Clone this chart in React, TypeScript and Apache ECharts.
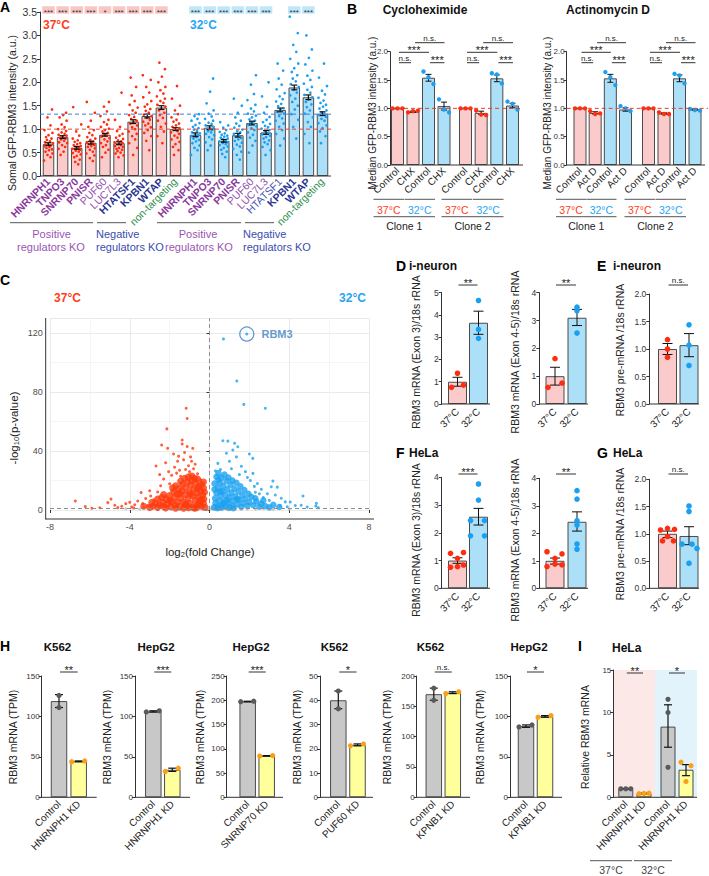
import React, { useEffect, useRef } from "react";
import * as echarts from "echarts";

const FONT = "'Liberation Sans', Arial, Helvetica, sans-serif";

/* ================= DATA ================= */
// ---- Panel A ----
const aCats = ["HNRNPH1", "TNPO3", "SNRNP70", "PNISR", "PUF60", "LUC7L3", "HTATSF1", "KPBN1", "WTAP", "non-targeting"];
const a37Means = [0.68, 0.83, 0.6, 0.71, 0.88, 0.7, 1.16, 1.28, 1.46, 1.0];
const a37Sem = [0.03, 0.03, 0.03, 0.03, 0.03, 0.03, 0.04, 0.04, 0.04, 0.03];
const a32Means = [0.88, 1.03, 0.75, 0.87, 1.13, 0.93, 1.41, 1.89, 1.68, 1.33];
const a32Sem = [0.04, 0.04, 0.03, 0.04, 0.04, 0.04, 0.04, 0.05, 0.05, 0.04];
const a37Dots = [
  [0.33, 0.4, 0.45, 0.48, 0.52, 0.55, 0.57, 0.6, 0.62, 0.64, 0.66, 0.68, 0.7, 0.72, 0.74, 0.77, 0.8, 0.83, 0.87, 0.92, 0.98, 1.08, 1.25, 1.42],
  [0.45, 0.52, 0.58, 0.62, 0.66, 0.7, 0.72, 0.75, 0.78, 0.8, 0.82, 0.84, 0.86, 0.88, 0.9, 0.93, 0.96, 1.0, 1.04, 1.1, 1.18, 1.25, 1.3, 1.35],
  [0.25, 0.3, 0.35, 0.4, 0.43, 0.46, 0.49, 0.52, 0.54, 0.56, 0.58, 0.6, 0.62, 0.64, 0.66, 0.68, 0.7, 0.73, 0.76, 0.8, 0.86, 0.95, 1.1, 1.47],
  [0.32, 0.38, 0.44, 0.48, 0.52, 0.56, 0.59, 0.62, 0.64, 0.66, 0.68, 0.7, 0.72, 0.74, 0.77, 0.8, 0.83, 0.87, 0.92, 0.98, 1.05, 1.18, 1.35, 1.58],
  [0.4, 0.5, 0.56, 0.62, 0.66, 0.7, 0.74, 0.78, 0.81, 0.84, 0.87, 0.9, 0.92, 0.95, 0.98, 1.01, 1.05, 1.1, 1.15, 1.2, 1.28, 1.38, 1.48, 1.58],
  [0.4, 0.44, 0.48, 0.5, 0.53, 0.56, 0.58, 0.6, 0.62, 0.64, 0.66, 0.68, 0.7, 0.72, 0.74, 0.76, 0.79, 0.82, 0.86, 0.9, 0.96, 1.05, 1.2, 1.78],
  [0.45, 0.6, 0.7, 0.78, 0.85, 0.9, 0.95, 1.0, 1.04, 1.08, 1.12, 1.15, 1.18, 1.22, 1.26, 1.3, 1.35, 1.4, 1.46, 1.52, 1.6, 1.72, 1.9, 2.1],
  [0.55, 0.75, 0.85, 0.92, 0.98, 1.04, 1.08, 1.12, 1.16, 1.2, 1.24, 1.28, 1.31, 1.35, 1.39, 1.43, 1.48, 1.53, 1.6, 1.68, 1.78, 1.9, 2.05, 2.15],
  [0.7, 0.85, 0.95, 1.05, 1.12, 1.18, 1.24, 1.3, 1.35, 1.4, 1.44, 1.48, 1.52, 1.56, 1.6, 1.65, 1.7, 1.76, 1.83, 1.9, 2.0, 2.12, 2.28, 2.42],
  [0.45, 0.55, 0.62, 0.68, 0.73, 0.78, 0.82, 0.86, 0.9, 0.93, 0.96, 0.99, 1.02, 1.05, 1.08, 1.12, 1.16, 1.2, 1.25, 1.32, 1.4, 1.5, 1.65, 1.92],
];
const a32Dots = [
  [0.45, 0.55, 0.6, 0.65, 0.7, 0.74, 0.77, 0.8, 0.83, 0.85, 0.87, 0.89, 0.91, 0.93, 0.96, 0.99, 1.02, 1.05, 1.09, 1.13, 1.18, 1.22, 1.28, 1.32],
  [0.55, 0.65, 0.72, 0.78, 0.83, 0.87, 0.9, 0.93, 0.96, 0.99, 1.01, 1.03, 1.05, 1.08, 1.11, 1.14, 1.18, 1.22, 1.27, 1.33, 1.4, 1.55, 1.8, 2.08],
  [0.4, 0.47, 0.52, 0.56, 0.6, 0.63, 0.66, 0.68, 0.7, 0.72, 0.74, 0.76, 0.78, 0.8, 0.82, 0.84, 0.86, 0.88, 0.91, 0.94, 0.98, 1.03, 1.08, 1.15],
  [0.35, 0.45, 0.52, 0.58, 0.63, 0.67, 0.71, 0.75, 0.78, 0.81, 0.84, 0.87, 0.9, 0.93, 0.96, 0.99, 1.03, 1.07, 1.12, 1.18, 1.25, 1.35, 1.5, 1.65],
  [0.5, 0.65, 0.75, 0.82, 0.88, 0.93, 0.98, 1.02, 1.06, 1.09, 1.12, 1.15, 1.18, 1.21, 1.25, 1.29, 1.33, 1.38, 1.44, 1.52, 1.62, 1.75, 1.95, 2.15],
  [0.45, 0.55, 0.62, 0.68, 0.72, 0.76, 0.8, 0.83, 0.86, 0.89, 0.92, 0.95, 0.98, 1.01, 1.04, 1.07, 1.11, 1.15, 1.2, 1.26, 1.35, 1.48, 1.7, 2.0],
  [0.65, 0.8, 0.9, 0.98, 1.05, 1.12, 1.18, 1.23, 1.28, 1.33, 1.37, 1.41, 1.45, 1.49, 1.54, 1.59, 1.64, 1.7, 1.77, 1.85, 1.95, 2.08, 2.25, 2.4],
  [0.8, 1.05, 1.2, 1.32, 1.42, 1.5, 1.58, 1.65, 1.72, 1.78, 1.84, 1.9, 1.96, 2.02, 2.08, 2.15, 2.22, 2.3, 2.4, 2.5, 2.65, 2.8, 3.05, 3.4],
  [0.7, 0.9, 1.05, 1.15, 1.25, 1.33, 1.4, 1.47, 1.53, 1.58, 1.63, 1.68, 1.73, 1.78, 1.84, 1.9, 1.97, 2.05, 2.14, 2.25, 2.38, 2.52, 2.7, 3.0],
  [0.7, 0.85, 0.95, 1.02, 1.08, 1.13, 1.18, 1.22, 1.26, 1.3, 1.33, 1.36, 1.4, 1.44, 1.48, 1.52, 1.56, 1.61, 1.67, 1.74, 1.82, 1.92, 2.1, 2.4],
];
const aStars37 = ["***", "***", "***", "***", "*", "***", "***", "***", "***", ""];
const aStars32 = ["***", "***", "***", "***", "***", "***", "", "***", "***", ""];
const aRef37 = 1.0;
const aRef32 = 1.32;

// ---- Panel B ----
const bCatsCyc = ["Control", "CHX", "Control", "CHX"];
const bCatsAct = ["Control", "Act D", "Control", "Act D"];
const cycC1Means = [1.0, 0.94, 1.54, 1.04];
const cycC1Err = [0, 0.01, 0.06, 0.07];
const cycC1Dots = [[1, 1, 1], [0.93, 0.95, 0.96], [1.65, 1.55, 1.43], [1.16, 0.98, 0.93]];
const cycC2Means = [1.0, 0.92, 1.53, 1.05];
const cycC2Err = [0, 0.03, 0.06, 0.04];
const cycC2Dots = [[1, 1, 1], [0.96, 0.89, 0.88], [1.62, 1.6, 1.44], [1.12, 1.08, 0.98]];
const actC1Means = [1.0, 0.92, 1.53, 0.98];
const actC1Err = [0, 0.02, 0.07, 0.03];
const actC1Dots = [[1, 1, 1], [0.95, 0.9, 0.91], [1.64, 1.55, 1.41], [1.04, 1.0, 0.95]];
const actC2Means = [1.0, 0.91, 1.53, 0.98];
const actC2Err = [0, 0.01, 0.06, 0.01];
const actC2Dots = [[1, 1, 1], [0.93, 0.9, 0.9], [1.61, 1.58, 1.44], [0.99, 0.97, 0.96]];
const bSig = ["n.s.", "***", "n.s.", "***"];

// ---- Panel C (volcano) ----
const volRedCore = [
  [-0.22, 1.8], [-0.3, 4.5], [-0.28, 7.5], [-0.35, 10.2], [-0.4, 2.6], [-0.45, 13], [-0.5, 5.8], [-0.55, 8.8], [-0.52, 16], [-0.62, 3.2],
  [-0.65, 11.5], [-0.7, 18.5], [-0.72, 6.6], [-0.78, 14.2], [-0.82, 2.1], [-0.85, 9.6], [-0.9, 20], [-0.95, 16.8], [-0.98, 4.6], [-1.02, 12.4],
  [-1.08, 7.8], [-1.1, 19], [-1.15, 2.8], [-1.2, 15.3], [-1.22, 10.4], [-1.3, 5.4], [-1.35, 17.5], [-1.38, 12.8], [-1.45, 8.2], [-1.5, 2.3],
  [-1.55, 14.6], [-1.6, 5.2], [-1.62, 10.8], [-1.72, 3.2], [-1.75, 8.4], [-1.8, 12.6], [-1.9, 5.5], [-1.95, 2.2], [-2.0, 9.8], [-2.1, 4.2],
  [-2.15, 7.1], [-2.3, 2.4], [-2.35, 5.3], [-2.5, 3.4], [-2.6, 1.8], [-2.7, 4.6], [-2.85, 2.5], [-3.0, 1.7], [-0.25, 12], [-0.3, 15],
  [-0.6, 21], [-1.25, 21.5], [-0.88, 23], [-1.45, 19.5], [-0.4, 17.5], [-1.05, 1.5], [-0.65, 1.5], [-1.85, 15], [-2.3, 10.5], [-2.6, 7.5],
  [-0.3, 19], [-0.5, 3.5], [-0.75, 1.2], [-1.3, 1.2], [-1.7, 1.2], [-2.0, 6.5], [-1.2, 4], [-0.95, 10.8], [-0.6, 14.5], [-1.7, 16.5],
  [-2.4, 8.5], [-2.9, 5], [-3.3, 2.5], [-0.4, 7], [-1.5, 11], [-2.2, 1.3], [-1.05, 22.5], [-0.75, 21.5],
];
const volRedSparse = [
  [-6.73, 6.1], [-6.23, 2.3], [-5.1, 5], [-4.94, 7.4], [-4.75, 3.2], [-4.6, 1.6], [-4.4, 2.5], [-4.2, 4.3], [-4.0, 5.2], [-3.9, 2.0],
  [-3.75, 3.6], [-3.6, 6.1], [-3.43, 11.8], [-3.35, 4.4], [-3.2, 7.8], [-3.1, 3.0], [-2.95, 9.5], [-2.8, 6.9], [-2.68, 29.8], [-2.6, 12.2],
  [-2.45, 16.4], [-2.4, 44], [-2.3, 21], [-2.2, 9.3], [-2.14, 55], [-2.1, 41.8], [-2.05, 26], [-2.0, 17.8], [-1.9, 23.5], [-1.8, 38],
  [-1.75, 29], [-1.65, 25], [-1.6, 33], [-1.5, 27], [-1.45, 22.8], [-1.37, 47.5], [-1.37, 44.7], [-1.3, 34], [-1.25, 39], [-1.17, 69],
  [-1.12, 62], [-1.12, 43], [-1.05, 30], [-1.0, 26], [-0.95, 36], [-0.84, 41.8], [-0.8, 28], [-0.72, 31], [-0.6, 24.5], [-0.45, 20.5],
  [-5.5, 1.5], [-5.9, 1.2], [-3.8, 1.3], [-3.3, 1.5], [-2.2, 32], [-1.55, 36.5], [-0.9, 33], [-2.5, 24], [-1.2, 27.5], [-3.0, 13],
];
const volBlueCore = [
  [0.22, 1.8], [0.3, 4.8], [0.28, 8], [0.35, 11.5], [0.4, 2.4], [0.42, 15], [0.5, 6.2], [0.55, 9.6], [0.52, 18.5], [0.6, 21.8],
  [0.62, 3.3], [0.65, 12.8], [0.7, 16.5], [0.75, 6.5], [0.8, 10.2], [0.82, 2.2], [0.85, 19.8], [0.9, 14], [0.95, 4.6], [1.0, 8.4],
  [1.05, 17.2], [1.1, 11.6], [1.15, 2.6], [1.2, 6.2], [1.25, 14.5], [1.3, 9.2], [1.4, 3.8], [1.45, 12.5], [1.5, 6.8], [1.6, 2.2],
  [1.65, 10], [1.7, 4.6], [1.8, 7.6], [1.9, 2.8], [2.0, 5.4], [2.1, 9], [2.2, 3.2], [2.35, 5.8], [2.5, 2.2], [2.6, 4.2],
  [2.8, 2.6], [3.0, 1.8], [0.35, 22.5], [0.45, 25], [1.35, 18.5], [1.55, 16], [0.75, 24], [0.25, 18], [1.0, 1.6], [0.6, 1.5],
  [0.25, 14], [0.45, 20.5], [0.7, 4.5], [0.95, 22], [1.15, 20], [1.2, 1.2], [1.4, 7.5], [1.75, 13.5], [1.95, 11], [2.3, 8],
  [2.7, 6.5], [3.2, 3.5], [3.5, 2], [0.4, 1.2], [0.55, 12.5], [0.9, 6.5],
];
const volBlueSparse = [
  [0.7, 116], [1.37, 87.5], [1.72, 71.6], [2.8, 69], [0.67, 47], [0.92, 46.7], [1.26, 45.2], [1.42, 42.9], [1.17, 40.7], [2.0, 38],
  [2.17, 35], [0.85, 38.5], [1.35, 36], [0.42, 31.6], [1.0, 33], [1.6, 29.6], [2.18, 24.8], [1.9, 22], [2.4, 18], [2.6, 14],
  [2.9, 11], [3.18, 19.6], [3.1, 15.8], [3.4, 15.5], [3.3, 10.2], [3.6, 8], [3.8, 5.5], [4.05, 5.4], [4.3, 3.1], [4.6, 3.2],
  [4.69, 9.5], [4.9, 2], [5.36, 4.5], [5.33, 2.7], [5.45, 1.6], [3.55, 3], [3.9, 2.2], [2.7, 8.5], [2.3, 12], [1.8, 26],
  [1.1, 28], [0.55, 27.5], [0.3, 26.5], [2.05, 20], [1.5, 24], [2.5, 11], [3.0, 6.5], [2.25, 16],
];
const volGrey = [
  [-4.2, 0.8], [-3.5, 0.6], [-3.0, 1.0], [-2.6, 0.4], [-2.2, 0.9], [-1.9, 0.3], [-1.6, 1.1], [-1.5, 0.1], [-1.3, 0.5], [-1.1, 0.9],
  [-0.9, 0.2], [-0.7, 0.7], [-0.5, 1.1], [-0.35, 0.4], [-0.2, 0.8], [-0.1, 0.3], [0.05, 0.6], [0.15, 1.0], [0.3, 0.3], [0.45, 0.8],
  [0.6, 0.5], [0.8, 1.1], [0.9, 0.1], [1.0, 0.4], [1.3, 0.9], [1.6, 0.3], [1.9, 0.7], [2.3, 0.5], [2.7, 1.0], [3.2, 0.4], [4.0, 0.7],
];
const volRBM3 = [[1.87, 119.3]];
const volSigLine = 1.3;

// ---- Panels D-G ----
const tempCats = ["37°C", "32°C"];
const d1Means = [1.0, 3.65];
const d1Lo = [0.8, 3.13];
const d1Hi = [1.2, 4.17];
const d1Dots = [[1.38, 0.75, 0.85], [4.65, 3.35, 2.95]];
const d2Means = [1.0, 3.1];
const d2Lo = [0.68, 2.82];
const d2Hi = [1.32, 3.4];
const d2Dots = [[1.63, 0.6, 0.75], [3.48, 3.35, 2.55]];
const eMeans = [1.0, 1.07];
const eLo = [0.9, 0.86];
const eHi = [1.1, 1.28];
const eDots = [[1.17, 1.0, 0.85], [1.44, 1.07, 0.7]];
const f1Means = [1.0, 2.58];
const f1Lo = [0.9, 2.28];
const f1Hi = [1.1, 2.88];
const f1Dots = [[1.26, 1.29, 1.08, 0.76, 0.78, 0.84], [3.76, 3.18, 2.44, 2.44, 1.89, 1.89]];
const f2Means = [1.0, 2.42];
const f2Lo = [0.88, 2.08];
const f2Hi = [1.1, 2.78];
const f2Dots = [[1.33, 1.25, 1.09, 0.79, 0.88, 0.85], [3.55, 3.24, 2.46, 2.3, 1.61, 1.42]];
const gMeans = [1.0, 0.96];
const gLo = [0.93, 0.8];
const gHi = [1.05, 1.13];
const gDots = [[1.07, 1.1, 1.08, 0.87, 0.95, 0.87], [1.51, 1.41, 0.81, 0.81, 0.73, 0.46]];
const degSig = ["**", "**", "n.s.", "***", "**", "n.s."];

// ---- Panel H ----
const hTitles = ["K562", "HepG2", "HepG2", "K562", "K562", "HepG2"];
const hCats = [
  ["Control", "HNRNPH1 KD"], ["Control", "HNRNPH1 KD"], ["Control", "SNRNP70 KD"],
  ["Control", "PUF60 KD"], ["Control", "KPNB1 KD"], ["Control", "KPNB1 KD"],
];
const hMeans = [[119, 44.5], [106, 34], [197.5, 85.5], [40, 21.6], [170, 172.5], [88, 100]];
const hLo = [[111, 44], [105.5, 32], [197, 85], [36.5, 21.2], [160, 171], [86.5, 99]];
const hHi = [[127, 45], [107, 36], [198, 86], [43.8, 22], [180, 174], [89.5, 101]];
const hDots = [
  [[126, 111], [44, 45]], [[105.5, 107], [32, 36]], [[197, 198], [85, 86]],
  [[43.8, 36.5], [21.2, 22]], [[180, 160], [171, 174]], [[87, 89.5], [99, 101]],
];
const hYMax = [150, 150, 250, 50, 200, 150];
const hYStep = [50, 50, 50, 10, 50, 50];
const hSig = ["**", "***", "***", "*", "n.s.", "*"];

// ---- Panel I ----
const iCats = ["Control", "HNRNPH1 KD"];
const i37Means = [1.0, 0.45];
const i37Lo = [0.97, 0.4];
const i37Hi = [1.03, 0.5];
const i37Dots = [[1, 1, 1], [0.42, 0.45, 0.48]];
const i32Means = [8.33, 3.25];
const i32Lo = [5.9, 2.55];
const i32Hi = [10.9, 3.85];
const i32Dots = [[11.55, 9.98, 3.54], [4.13, 3.73, 1.85]];
const iSig = ["**", "*"];

/* ================= STYLE ================= */
const C_PINK = "#fbcaca";
const C_LBLUE = "#acdff8";
const C_RED = "#ff2d10";
const C_BLUE = "#1b9ff2";
const C_EDGE = "#4b4b4b";
const C_REDT = "#ff3d20";
const C_BLUET = "#27a4f4";
const C_GREYBAR = "#c8c8c8";
const C_YELLOW = "#ffff9c";
const C_GREYDOT = "#5a5a5a";
const C_ORANGE = "#f8a01c";
const JIT_A = [-4.5, 2, -1, 4, -3, 0.5, 3.5, -2, 1, -4, 2.5, -0.5, 4.5, -3.5, 1.5, -1.5, 3, -2.5, 0, 4, -4, 2, -1, 3.5];
const aCls37 = ["pb", "pb", "pb", "pb", "p", "p", "nb", "nb", "nb", "g"];
const aCls32 = ["pb", "pb", "pb", "pb", "p", "p", "n", "nb", "nb", "g"];
const aRich = {
  pb: { color: "#8a3a9c", fontWeight: "bold", fontSize: 10.5, fontFamily: FONT },
  p: { color: "#9450ae", fontSize: 10.5, fontFamily: FONT },
  nb: { color: "#2b3590", fontWeight: "bold", fontSize: 10.5, fontFamily: FONT },
  n: { color: "#3d4fb8", fontSize: 10.5, fontFamily: FONT },
  g: { color: "#2f8f4f", fontSize: 10.5, fontFamily: FONT },
};

function buildOption() {
  const grid: any[] = [];
  const xAxis: any[] = [];
  const yAxis: any[] = [];
  const series: any[] = [];
  const graphic: any[] = [];

  const txt = (text: string, x: number, y: number, o: any = {}) => {
    graphic.push({
      type: "text", x, y, rotation: o.rot || 0, silent: true, z: 20,
      style: {
        text, fill: o.color || "#222", fontSize: o.size || 10, fontWeight: o.weight || "normal",
        fontFamily: FONT, align: o.align || "center", verticalAlign: o.va || "middle",
        textAlign: o.align || "center", textVerticalAlign: o.va || "middle", rich: o.rich,
        lineHeight: o.lh,
      },
    });
  };
  const line = (x1: number, y1: number, x2: number, y2: number, o: any = {}) => {
    graphic.push({
      type: "line", silent: true, z: o.z ?? 20, shape: { x1, y1, x2, y2 },
      style: { stroke: o.color || "#333", lineWidth: o.w || 1, lineDash: o.dash || null },
    });
  };
  const rect = (x: number, y: number, w: number, h: number, fill: string, z = 15) => {
    graphic.push({ type: "rect", silent: true, z, shape: { x, y, width: w, height: h }, style: { fill } });
  };

  const addGrid = (p: any) => {
    const s = (p.last - p.first) / (p.n - 1);
    const left = p.first - s / 2;
    const width = s * p.n;
    const gi = grid.length;
    grid.push({ left, top: p.top, width, height: p.bottom - p.top });
    xAxis.push({
      type: "category", gridIndex: gi, data: p.cats,
      axisLine: { show: false }, axisTick: { show: false }, splitLine: { show: false },
      axisLabel: {
        interval: 0, rotate: 45, margin: p.margin ?? 5, fontSize: p.labelSize || 10, fontFamily: FONT,
        color: "#222", formatter: p.fmt, rich: p.rich,
      },
    });
    yAxis.push({
      type: "value", gridIndex: gi, min: p.ymin, max: p.ymax, interval: p.interval,
      show: p.showY !== false, offset: left - p.axisX,
      axisLine: { show: true, lineStyle: { color: "#333", width: 1 } },
      axisTick: { show: true, length: 3, lineStyle: { color: "#333", width: 1 } },
      axisLabel: { fontSize: p.tickSize || 10, fontFamily: FONT, color: "#333", margin: p.tickMargin ?? 3, formatter: (v: number) => v.toFixed(p.digits) },
      splitLine: { show: false },
    });
    if (p.axisEnd) line(p.axisX, p.bottom, p.axisEnd, p.bottom, { color: "#333" });
    return { gi, left, width, top: p.top, bottom: p.bottom, n: p.n, ymin: p.ymin, ymax: p.ymax };
  };
  const cx = (g: any, i: number) => g.left + ((i + 0.5) * g.width) / g.n;
  const py = (g: any, v: number) => g.top + (g.bottom - g.top) * (1 - (v - g.ymin) / (g.ymax - g.ymin));

  const addBars = (g: any, means: number[], fills: string[], bw: number) => {
    series.push({
      type: "bar", xAxisIndex: g.gi, yAxisIndex: g.gi, barWidth: bw, silent: true, z: 2,
      data: means.map((m, i) => ({ value: m, itemStyle: { color: fills[i], borderColor: C_EDGE, borderWidth: 1 } })),
    });
  };
  const addErr = (g: any, lo: number[], hi: number[], cap: number, w = 1, z = 5) => {
    series.push({
      type: "custom", xAxisIndex: g.gi, yAxisIndex: g.gi, silent: true, z,
      data: lo.map((l, i) => [i, l, hi[i]]),
      renderItem: (_p: any, api: any) => {
        const a = api.coord([api.value(0), api.value(1)]);
        const b = api.coord([api.value(0), api.value(2)]);
        const st = { stroke: "#111", lineWidth: w };
        return {
          type: "group",
          children: [
            { type: "line", shape: { x1: a[0], y1: a[1], x2: b[0], y2: b[1] }, style: st },
            { type: "line", shape: { x1: a[0] - cap, y1: a[1], x2: a[0] + cap, y2: a[1] }, style: st },
            { type: "line", shape: { x1: b[0] - cap, y1: b[1], x2: b[0] + cap, y2: b[1] }, style: st },
          ],
        };
      },
    });
  };
  const addDots = (g: any, dots: number[][], jit: (i: number, j: number) => number, colors: string[], r: number, z = 4) => {
    const data: any[] = [];
    dots.forEach((arr, i) => arr.forEach((v, j) => data.push([i, v, jit(i, j)])));
    series.push({
      type: "custom", xAxisIndex: g.gi, yAxisIndex: g.gi, silent: true, z, data,
      renderItem: (_p: any, api: any) => {
        const c = api.coord([api.value(0), api.value(1)]);
        return { type: "circle", shape: { cx: c[0] + api.value(2), cy: c[1], r }, style: { fill: colors[api.value(0)] } };
      },
    });
  };
  // significance bracket: stars large and just above the line, n.s. small
  const sig = (x1: number, x2: number, y: number, t: string) => {
    line(x1, y, x2, y, { color: "#333", w: 1 });
    const stars = t.indexOf("*") >= 0;
    if (stars) txt(t, (x1 + x2) / 2, y - 2.5, { va: "middle", size: 11, color: "#222", lh: 7 });
    else txt(t, (x1 + x2) / 2, y - 4.5, { va: "middle", size: 8, color: "#222", lh: 7 });
  };
  const ylab = (t: string, x: number, y: number, size = 10, rich?: any) =>
    txt(t, x, y, { rot: Math.PI / 2, size, color: "#222", rich });
  const letter = (t: string, x: number, y: number) => txt(t, x, y, { align: "left", va: "top", size: 14, weight: "bold", color: "#000" });

  /* ---------- Panel A ---------- */
  letter("A", 0, 0);
  const gA1 = addGrid({
    first: 48.5, last: 175.5, n: 10, top: 12, bottom: 176, axisX: 40, axisEnd: 331, ymin: 0, ymax: 3.5, interval: 0.5,
    digits: 1, cats: aCats, margin: 4, tickSize: 10.5, fmt: (v: string, i: number) => `{${aCls37[i]}|${v}}`, rich: aRich,
  });
  const gA2 = addGrid({
    first: 195.5, last: 322.5, n: 10, top: 12, bottom: 176, axisX: 40, ymin: 0, ymax: 3.5, interval: 0.5,
    digits: 1, cats: aCats, showY: false, margin: 4, fmt: (v: string, i: number) => `{${aCls32[i]}|${v}}`, rich: aRich,
  });
  const jA = (i: number, j: number) => JIT_A[(j + 7 * i) % JIT_A.length];
  addBars(gA1, a37Means, a37Means.map(() => C_PINK), 11.5);
  addDots(gA1, a37Dots, jA, a37Means.map(() => C_RED), 1.35, 3);
  addErr(gA1, a37Means.map((m, i) => m - a37Sem[i]), a37Means.map((m, i) => m + a37Sem[i]), 3, 1.2);
  addBars(gA2, a32Means, a32Means.map(() => C_LBLUE), 11.5);
  addDots(gA2, a32Dots, jA, a32Means.map(() => C_BLUE), 1.35, 3);
  addErr(gA2, a32Means.map((m, i) => m - a32Sem[i]), a32Means.map((m, i) => m + a32Sem[i]), 3, 1.2);
  line(40, py(gA1, aRef37), 331, py(gA1, aRef37), { color: "#e8402a", dash: [4, 3] });
  line(40, py(gA1, aRef32), 331, py(gA1, aRef32), { color: "#3b7ddd", dash: [4, 3] });
  aStars37.forEach((s, i) => {
    if (!s) return;
    rect(cx(gA1, i) - 6.3, 6.3, 12.6, 7.4, "#f9c6c6");
    txt(s, cx(gA1, i), 12.3, { size: 8, color: "#333" });
  });
  aStars32.forEach((s, i) => {
    if (!s) return;
    rect(cx(gA2, i) - 6.3, 6.3, 12.6, 7.4, "#bfe7fb");
    txt(s, cx(gA2, i), 12.3, { size: 8, color: "#333" });
  });
  txt("37°C", 43, 25, { align: "left", size: 12, weight: "bold", color: C_REDT });
  txt("32°C", 190, 25, { align: "left", size: 12, weight: "bold", color: C_BLUET });
  ylab("Somal GFP-RBM3 intensity (a.u.)", 12, 113, 10.5);
  line(10, 222.7, 93, 222.7, { color: "#555" });
  line(97, 222.7, 126, 222.7, { color: "#555" });
  line(157, 222.7, 241, 222.7, { color: "#555" });
  line(245, 222.7, 274, 222.7, { color: "#555" });
  txt("Positive", 51.5, 233.5, { size: 11, color: "#9a55b5" });
  txt("regulators KO", 51, 247, { size: 11, color: "#9a55b5" });
  txt("Negative", 96, 233.5, { size: 11, color: "#3a4db0", align: "left" });
  txt("regulators KO", 96, 247, { size: 11, color: "#3a4db0", align: "left" });
  txt("Positive", 198, 233.5, { size: 11, color: "#9a55b5" });
  txt("regulators KO", 199, 247, { size: 11, color: "#9a55b5" });
  txt("Negative", 243, 233.5, { size: 11, color: "#3a4db0", align: "left" });
  txt("regulators KO", 243, 247, { size: 11, color: "#3a4db0", align: "left" });

  /* ---------- Panel B ---------- */
  letter("B", 347, 2);
  txt("Cycloheximide", 425, 10, { size: 12, weight: "bold", color: "#111" });
  txt("Actinomycin D", 608, 10, { size: 12, weight: "bold", color: "#111" });
  const bFill = [C_PINK, C_PINK, C_LBLUE, C_LBLUE];
  const bDot = [C_RED, C_RED, C_BLUE, C_BLUE];
  const bJit = [-5, 0, 5];
  const bPanels = [
    { first: 397.5, last: 444, axisX: 390, axisEnd: 523, showY: true, cats: bCatsCyc, m: cycC1Means, e: cycC1Err, d: cycC1Dots, clone: "Clone 1" },
    { first: 465.5, last: 512.5, axisX: 390, showY: false, cats: bCatsCyc, m: cycC2Means, e: cycC2Err, d: cycC2Dots, clone: "Clone 2" },
    { first: 580, last: 625.5, axisX: 566.7, axisEnd: 705, showY: true, cats: bCatsAct, m: actC1Means, e: actC1Err, d: actC1Dots, clone: "Clone 1" },
    { first: 648.5, last: 695, axisX: 566.7, showY: false, cats: bCatsAct, m: actC2Means, e: actC2Err, d: actC2Dots, clone: "Clone 2" },
  ];
  const bGrids = bPanels.map((bp) => {
    const g = addGrid({
      first: bp.first, last: bp.last, n: 4, top: 51.7, bottom: 165, axisX: bp.axisX, axisEnd: bp.axisEnd,
      ymin: 0, ymax: 2, interval: 0.5, digits: 1, cats: bp.cats, showY: bp.showY, margin: 4, tickSize: 8, tickMargin: 2,
    });
    addBars(g, bp.m, bFill, 13);
    addErr(g, bp.m.map((v, i) => v - bp.e[i]), bp.m.map((v, i) => v + bp.e[i]), 3, 1, 4);
    addDots(g, bp.d, (_i, j) => bJit[j], bDot, 2.2, 5);
    const c = [0, 1, 2, 3].map((i) => cx(g, i));
    sig(c[0] + 1.5, c[1] - 2, 62.7, bSig[0]);
    sig(c[0] + 1.5, c[2] + 0.5, 52.3, bSig[1]);
    sig(c[1] + 2, c[3] + 0.5, 42.7, bSig[2]);
    sig(c[2] + 1.5, c[3] + 0.5, 62.7, bSig[3]);
    line(c[0] - 24, 199.3, c[1] - 9, 199.3, { color: "#555" });
    txt("37°C", (c[0] + c[1]) / 2 - 16.5, 210, { size: 10.5, color: C_REDT });
    line(c[2] - 24, 199.3, c[3] - 9, 199.3, { color: "#555" });
    txt("32°C", (c[2] + c[3]) / 2 - 16.5, 210, { size: 10.5, color: C_BLUET });
    line(c[0] - 24, 216.7, c[3] - 9, 216.7, { color: "#555" });
    txt(bp.clone, (c[0] + c[3]) / 2 - 16.5, 226, { size: 10.5, color: "#222" });
    return g;
  });
  const gB = bGrids[0];
  line(390, py(gB, 1.0), 523, py(gB, 1.0), { color: "#e8402a", dash: [4, 3] });
  line(566.7, py(gB, 1.0), 708, py(gB, 1.0), { color: "#e8402a", dash: [4, 3] });
  ylab("Median GFP-RBM3 intensity (a.u.)", 372, 113, 10);
  ylab("Median GFP-RBM3 intensity (a.u.)", 547.5, 113, 10);

  /* ---------- Panel C (volcano) ---------- */
  letter("C", 0, 273);
  txt("37°C", 67.5, 298, { size: 12, weight: "bold", color: C_REDT });
  txt("32°C", 352.5, 298, { size: 12, weight: "bold", color: C_BLUET });
  const vgi = grid.length;
  grid.push({ left: 50, top: 318.25, width: 319, height: 191.75 });
  const vAxisCommon = {
    axisLine: { show: false },
    axisTick: { show: true, length: 3, lineStyle: { color: "#333" } },
    splitLine: { show: true, lineStyle: { color: "#e4e4e4", width: 0.8 } },
    minorTick: { show: false, splitNumber: 2 },
    minorSplitLine: { show: true, lineStyle: { color: "#efefef", width: 0.6 } },
  };
  xAxis.push({
    type: "value", gridIndex: vgi, min: -8, max: 8, interval: 4, offset: 9, ...vAxisCommon,
    axisLabel: { fontSize: 9, color: "#4d4d4d", fontFamily: FONT, margin: 3 },
  });
  yAxis.push({
    type: "value", gridIndex: vgi, min: 0, max: 130, interval: 40, offset: 4.3, ...vAxisCommon,
    axisLabel: { fontSize: 9, color: "#4d4d4d", fontFamily: FONT, margin: 3, showMaxLabel: false },
  });
  line(45.7, 318, 45.7, 519.5, { color: "#333" });
  line(45.7, 519, 374, 519, { color: "#333" });
  const sc = (data: number[][], size: number, color: string, z = 3, extra: any = {}) =>
    series.push({ type: "scatter", xAxisIndex: vgi, yAxisIndex: vgi, data, symbolSize: size, itemStyle: { color }, silent: true, z, ...extra });
  sc(volGrey, 3, "#bdbdbd", 2, {
    markLine: {
      silent: true, symbol: "none", label: { show: false },
      lineStyle: { type: [4, 3], color: "#8c8c8c", width: 1 },
      data: [{ xAxis: 0 }, { yAxis: volSigLine }],
    },
  });
  sc(volRedCore, 7, "#ff3a0c");
  sc(volRedSparse, 3, "#ff3a0c");
  sc(volBlueCore, 6.5, "#1aa1f0");
  sc(volBlueSparse, 3, "#1aa1f0");
  sc(volRBM3, 3, "#1aa1f0", 4);
  sc(volRBM3, 14, "transparent", 5, {
    itemStyle: { color: "rgba(0,0,0,0)", borderColor: "#3b7fc4", borderWidth: 1.3 },
    label: { show: true, position: "right", distance: 7, formatter: "RBM3", color: "#3b7fc4", fontWeight: "bold", fontSize: 11, fontFamily: FONT },
  });
  const richSub = {
    m: { fontSize: 11.5, fontFamily: FONT, fill: "#222", color: "#222" },
    s: { fontSize: 7.5, fontFamily: FONT, fill: "#222", color: "#222", verticalAlign: "bottom", padding: [5, 0, 0, 0] },
  };
  ylab("{m|-log}{s|10}{m|(p-value)}", 14, 428, 11.5, richSub);
  txt("{m|log}{s|2}{m|(fold Change)}", 210, 552, { size: 11.5, rich: richSub });

  /* ---------- Panels D, E, F, G ---------- */
  const tFill = [C_PINK, C_LBLUE];
  const tDot = [C_RED, C_BLUE];
  const degPanels = [
    { first: 457.5, last: 478.5, axisX: 441.7, axisEnd: 490, top: 292.7, bottom: 404, ymax: 5, step: 1, digits: 0, m: d1Means, lo: d1Lo, hi: d1Hi, d: d1Dots, jit: [[0, -6, 6], [0, 0, 0]], sigY: 285, lab: "RBM3 mRNA (Exon 3)/18s rRNA", labX: 416, labY: 352 },
    { first: 555, last: 577, axisX: 539.3, axisEnd: 588, top: 292.7, bottom: 404, ymax: 4, step: 1, digits: 0, m: d2Means, lo: d2Lo, hi: d2Hi, d: d2Dots, jit: [[0, -7, 7], [0, 0, 0]], sigY: 285, lab: "RBM3 mRNA (Exon 4-5)/18s rRNA", labX: 515, labY: 352 },
    { first: 667.5, last: 689, axisX: 649.3, axisEnd: 699, top: 294, bottom: 404, ymax: 2, step: 0.5, digits: 1, m: eMeans, lo: eLo, hi: eHi, d: eDots, jit: [[0, 0, 0], [0, 0, 0]], sigY: 285, lab: "RBM3 pre-mRNA /18s rRNA", labX: 620, labY: 350 },
    { first: 457.5, last: 478.5, axisX: 441.7, axisEnd: 490, top: 477.3, bottom: 588.3, ymax: 4, step: 1, digits: 0, m: f1Means, lo: f1Lo, hi: f1Hi, d: f1Dots, jit: [[-7, 6, 0, -7, 0, 6], [0, 0, -8, 6, -8, 6]], sigY: 474, lab: "RBM3 mRNA (Exon 3)/18s rRNA", labX: 416, labY: 540 },
    { first: 555, last: 577, axisX: 539.3, axisEnd: 588, top: 478.3, bottom: 588.3, ymax: 4, step: 1, digits: 0, m: f2Means, lo: f2Lo, hi: f2Hi, d: f2Dots, jit: [[-8, 7, 0, -8, 0, 7], [0, 0, 0, 0, 0, 0]], sigY: 474, lab: "RBM3 mRNA (Exon 4-5)/18s rRNA", labX: 515, labY: 540 },
    { first: 667.5, last: 689, axisX: 649.3, axisEnd: 699, top: 479.3, bottom: 588.3, ymax: 2, step: 0.5, digits: 1, m: gMeans, lo: gLo, hi: gHi, d: gDots, jit: [[-7, 0, 7, -5, 0, 6], [0, 0, -7, 3, 8, 0]], sigY: 474, lab: "RBM3 pre-mRNA /18s rRNA", labX: 620, labY: 534 },
  ];
  degPanels.forEach((p, k) => {
    const g = addGrid({
      first: p.first, last: p.last, n: 2, top: p.top, bottom: p.bottom, axisX: p.axisX, axisEnd: p.axisEnd,
      ymin: 0, ymax: p.ymax, interval: p.step, digits: p.digits, cats: tempCats, margin: 6, tickSize: 8.5, tickMargin: 3,
    });
    addBars(g, p.m, tFill, 19);
    addErr(g, p.lo, p.hi, 5, 1, 4);
    addDots(g, p.d, (i, j) => p.jit[i][j], tDot, 2.8, 5);
    sig(cx(g, 0) + 1, cx(g, 1) - 1, p.sigY, degSig[k]);
    ylab(p.lab, p.labX, p.labY, 10.5);
  });
  letter("D", 396, 259);
  txt("i-neuron", 409, 266, { align: "left", size: 12, weight: "bold", color: "#111" });
  letter("E", 597, 259);
  txt("i-neuron", 613, 266, { align: "left", size: 12, weight: "bold", color: "#111" });
  letter("F", 396, 446);
  txt("HeLa", 409, 453, { align: "left", size: 12, weight: "bold", color: "#111" });
  letter("G", 597, 446);
  txt("HeLa", 613, 453, { align: "left", size: 12, weight: "bold", color: "#111" });

  /* ---------- Panel H ---------- */
  letter("H", 0, 639);
  const hAxisX = [41.7, 135, 226.7, 320, 416.7, 510];
  const hFirst = [59, 153.3, 247.7, 338.3, 433.8, 526];
  const hLast = [78.7, 172.3, 266.7, 357.5, 452.8, 545];
  const hEnd = [96.7, 190, 283, 373, 470, 562];
  const hJit = [
    [[0, 0], [-7, 6]], [[-7, 6], [-7, 6]], [[-7, 6], [-7, 6]],
    [[0, 0], [-7, 6]], [[0, 0], [-7, 6]], [[-7, 6], [-7, 6]],
  ];
  const hLabX = [13, 107, 200, 297, 387, 480];
  const hTitleX = [57.5, 156, 251, 334.5, 430.5, 529];
  hTitles.forEach((t, k) => {
    const g = addGrid({
      first: hFirst[k], last: hLast[k], n: 2, top: 676, bottom: 797.3, axisX: hAxisX[k], axisEnd: hEnd[k],
      ymin: 0, ymax: hYMax[k], interval: hYStep[k], digits: 0, cats: hCats[k], margin: 5, tickSize: 8, tickMargin: 2,
    });
    addBars(g, hMeans[k], [C_GREYBAR, C_YELLOW], 16.5);
    addErr(g, hLo[k], hHi[k], 4, 1.2, 4);
    addDots(g, hDots[k], (i, j) => hJit[k][i][j], [C_GREYDOT, C_ORANGE], 2.6, 5);
    sig(cx(g, 0) + 1, cx(g, 1) - 1, 672, hSig[k]);
    txt(t, hTitleX[k], 647, { size: 11.5, weight: "bold", color: "#111" });
    ylab("RBM3 mRNA (TPM)", hLabX[k], 737, 10.5);
  });

  /* ---------- Panel I ---------- */
  letter("I", 578, 639);
  txt("HeLa", 612, 648, { align: "left", size: 12, weight: "bold", color: "#111" });
  graphic.push({ type: "rect", silent: true, z: -1, shape: { x: 613.3, y: 670, width: 41.7, height: 127.3 }, style: { fill: "#fde8e8" } });
  graphic.push({ type: "rect", silent: true, z: -1, shape: { x: 655, y: 670, width: 42, height: 127.3 }, style: { fill: "#e2f3fc" } });
  const gI1 = addGrid({
    first: 625.8, last: 644, n: 2, top: 670, bottom: 797.3, axisX: 613.3, axisEnd: 697,
    ymin: 0, ymax: 15, interval: 5, digits: 0, cats: iCats, margin: 5, tickSize: 8, tickMargin: 2,
  });
  const gI2 = addGrid({
    first: 668, last: 686, n: 2, top: 670, bottom: 797.3, axisX: 613.3, showY: false,
    ymin: 0, ymax: 15, interval: 5, digits: 0, cats: iCats, margin: 5,
  });
  addBars(gI1, i37Means, [C_GREYBAR, C_YELLOW], 15);
  addErr(gI1, i37Lo, i37Hi, 4, 1.2, 4);
  addDots(gI1, i37Dots, (_i, j) => [-5, 0, 5][j], [C_GREYDOT, C_ORANGE], 2.6, 5);
  addBars(gI2, i32Means, [C_GREYBAR, C_YELLOW], 15);
  addErr(gI2, i32Lo, i32Hi, 4, 1.2, 4);
  addDots(gI2, i32Dots, (i, j) => [[0, 0, 0], [-5, 5, 0]][i][j], [C_GREYDOT, C_ORANGE], 2.6, 5);
  sig(cx(gI1, 0) + 1, cx(gI1, 1) - 1, 673, iSig[0]);
  sig(cx(gI2, 0) + 1, cx(gI2, 1) - 1, 673, iSig[1]);
  ylab("Relative RBM3 mRNA", 585, 737, 10.5);
  line(590, 860.7, 632, 860.7, { color: "#555" });
  line(634, 860.7, 672, 860.7, { color: "#555" });
  txt("37°C", 611, 869.5, { size: 10.5, color: "#444" });
  txt("32°C", 653, 869.5, { size: 10.5, color: "#444" });

  return {
    animation: false,
    backgroundColor: "#ffffff",
    textStyle: { fontFamily: FONT },
    grid, xAxis, yAxis, series, graphic,
  };
}

export default function App() {
  const ref = useRef<HTMLDivElement>(null);
  useEffect(() => {
    if (!ref.current) return;
    const chart = echarts.init(ref.current, null, { renderer: "svg" });
    chart.setOption(buildOption() as any);
    return () => chart.dispose();
  }, []);
  return (
    <div
      ref={ref}
      style={{ position: "absolute", left: 0, top: 0, width: 709, height: 876, background: "#fff" }}
    />
  );
}
